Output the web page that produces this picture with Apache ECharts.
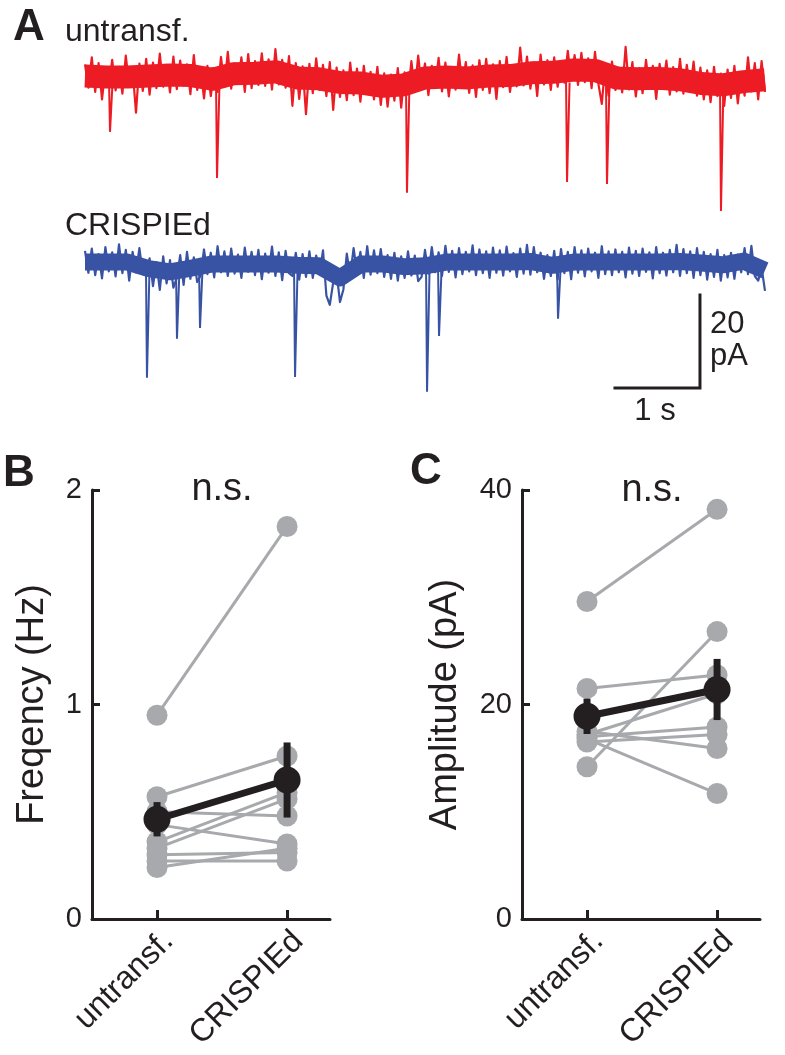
<!DOCTYPE html>
<html><head><meta charset="utf-8">
<script src="https://cdn.jsdelivr.net/npm/echarts@6/dist/echarts.min.js"></script>
<style>html,body{margin:0;padding:0;background:#fff}#c{width:785px;height:1055px}</style>
</head><body><div id="c"></div>
<script>
// ---------- Panel A: example traces (pA, relative to each trace's baseline) ----------
const traceDuration = 8; // s
// fast noise, sampled uniformly over the 8 s sweep
const untransfTrace = [
 2.9,-2.1,4.4,-3.0,3.2,
 -4.6,2.0,-1.8,3.9,-2.7,2.4,-3.4,4.8,-1.9,1.8,-7.5,3.1,-2.8,4.1,-3.6,
 3.3,-2.2,5.2,-1.9,2.8,-3.1,4.6,-2.4,3.7,-1.6,2.9,-3.5,4.9,-2.6,2.1,
 -4.4,2.6,-3.9,1.7,
 -3.0,4.5,-1.9,5.6,-2.3,3.1,-1.2,4.4,-3.0,5.1,-2.2,3.6,-1.5,
 5.3,-1.7,4.0,-2.5,6.2,-1.4,3.9,-2.1,4.7,
 -6.0,3.2,-4.5,2.5,-7.8,3.0,-3.3,4.2,-2.6,2.8,-3.9,3.4,
 -6.9,2.2,-4.1,1.6,-4.8,3.3,-3.7,2.0,-5.1,2.6,-3.2,1.3,-4.6,2.4,
 -5.8,1.0,-6.2,0.7,-4.9,2.1,-6.4,1.2,
 -3.5,3.6,-2.9,4.8,-2.0,3.1,-3.7,2.6,-1.8,4.3,-2.9,3.3,-4.0,2.2,-2.5,5.0,-1.9,3.4,-3.2,2.7,-4.1,3.8,
 -2.6,4.1,-3.3,2.9,-4.5,3.6,-2.0,4.5,-3.0,2.4,-1.8,6.5,
 -1.6,4.6,-2.3,3.3,-3.9,5.0,-1.4,3.8,-2.6,4.4,-1.9,3.1,
 -1.0,5.8,-0.6,4.9,-1.5,5.4,-0.9,4.2,-2.2,5.6,-1.3,
 -5.6,2.7,-3.8,3.5,-2.6,2.2,
 -3.1,6.7,-2.5,3.4,-4.0,2.1,-3.3,3.9,-2.2,2.6,-4.5,3.0,-2.0,3.7,-3.6,2.3,-2.9,4.1,-3.4,2.8,-2.4,3.5,-3.8,2.2,
 -4.6,1.6,-5.2,2.4,-3.9,0.9,-6.0,1.8,-4.3,2.6,-5.5,1.1,
 -3.8,4.4,-2.9,3.2,-4.6,3.6,-3.0
];
const crispiedTrace = [
 2.8,-1.9,3.3,-2.4,2.1,-3.1,3.6,-1.6,2.5,-2.7,4.2,-2.0,3.0,-3.6,2.6,-1.8,3.4,-2.2,
 -2.5,
 1.2,-4.8,0.4,-5.6,1.6,-4.2,0.8,-5.1,
 -3.0,
 1.9,-4.5,2.6,-3.2,1.4,-3.9,
 -2.5,
 3.1,-2.2,2.4,-2.9,3.8,-1.8,2.7,-2.6,3.3,-2.1,2.0,-3.0,3.5,-1.7,2.6,-2.4,3.0,-3.3,2.2,-1.9,3.7,-2.6,2.5,-3.5,2.8,-2.0,
 -2.6,2.4,
 -3.4,2.1,-2.8,2.7,-3.0,1.8,-2.2,2.9,
 -6.8,-8.8,-4.0,-2.0,-8.2,-5.5,
 2.2,-2.6,3.4,-1.9,2.6,-3.0,3.8,-2.3,2.9,-2.0,3.2,-2.8,1.9,-3.2,2.4,-3.6,1.6,-3.0,2.7,-2.5,1.8,-3.7,
 -2.8,
 3.0,-2.1,3.6,-1.8,2.5,-2.6,3.9,-1.7,2.8,-2.9,3.4,-2.2,2.6,-1.6,4.0,-2.4,3.1,-2.0,2.7,-3.0,3.5,-1.9,2.9,-2.5,3.7,-1.6,2.3,-2.8,3.3,-2.1,4.1,-2.3,3.6,-1.8,
 2.4,-3.2,1.9,-2.6,2.8,-3.4,
 3.2,-2.0,2.6,-3.3,3.6,-1.9,2.9,-2.7,3.3,-1.6,2.4,-3.0,3.8,-2.2,2.7,-2.4,3.1,-1.8,2.6,-2.9,3.5,-2.1,2.8,-2.6,3.3,-1.7,2.5,-3.1,3.6,-2.0,2.4,-2.5,3.0,-1.8,4.1,-2.6,3.2,-2.0,2.7,-3.0,3.4,
 -2.4,2.6,-3.4,2.1,-2.8,3.0,-3.6,1.9,-2.9,2.4,-3.2,2.0,
 -1.8,3.4,-2.2,3.9,-2.6,
 -3.6,-0.8,-5.8
];
// slow baseline wander (dense core of the noise band), every 0.25 s
const untransfBaseline = [0.4,0.2,0.2,0.4,0.6,0.5,-0.3,0.9,1.0,1.3,0.0,-0.2,-1.0,-1.1,-1.8,-1.5,0.0,
  0.2,0.0,0.4,0.5,1.1,1.2,1.7,1.6,0.0,-0.2,-0.1,-0.4,-1.2,-1.5,-0.8,-0.4];
const crispiedBaseline = [0.4,0.4,0.4,-1.0,-1.7,-0.9,0.0,0.0,0.0,0.0,-0.3,-0.4,-3.0,0.0,0.0,-0.6,-0.4,
  0.4,0.4,0.4,0.4,0.5,-0.3,0.4,0.4,0.4,0.4,0.4,0.5,0.2,-0.2,0.6,-1.4];
const untransfEventTimes = [0.294, 1.553, 3.788, 5.671, 6.141, 7.482];
const untransfEventAmps  = [11.6, 21.5, 24.7, 22.4, 22.8, 28.6];
const crispiedEventTimes = [0.729, 1.082, 1.353, 2.471, 4.024, 4.165, 5.565];
const crispiedEventAmps  = [24.5, 16.1, 13.8, 24.3, 27.5, 15.5, 11.8];
const scaleBarTime = 1;   // s
const scaleBarAmp = 20;   // pA

// ---------- Panels B & C: paired data ----------
const groups = ['untransf.', 'CRISPIEd'];
const freqUntransf = [0.95, 0.57, 0.50, 0.44, 0.36, 0.33, 0.30, 0.27, 0.24];
const freqCrispied = [1.83, 0.76, 0.48, 0.35, 0.59, 0.56, 0.31, 0.27, 0.33];
const freqMean = [0.465, 0.648];
const freqSem  = [0.08, 0.175];
const ampUntransf = [29.6, 21.5, 14.2, 17.2, 17.0, 16.5, 17.5, 16.8, 19.0];
const ampCrispied = [38.2, 22.75, 26.8, 21.0, 17.9, 17.2, 15.9, 11.7, 21.5];
const ampMean = [18.9, 21.4];
const ampSem  = [1.65, 2.85];
const freqTicks = [0, 1, 2];
const ampTicks = [0, 20, 40];
const statLabel = 'n.s.';

// ---------- layout / style constants ----------
const FONT = '"Liberation Sans", Arial, Helvetica, sans-serif';
const INK = '#231f20', GREY = '#a7a9ac', RED = '#ed1c24', BLUE = '#3953a4';
const RED_OFF = -10.3, BLUE_OFF = -50.3;       // vertical placement of traces (axis units)
const SB_T0 = 6.235, SB_Y0 = -77.0;             // scale-bar corner placement

const chart = echarts.init(document.getElementById('c'), null, {renderer: 'canvas'});

function traceSeries(vals, off, color, width, z) {
  const dt = traceDuration / (vals.length - 1);
  return {
    type: 'line', xAxisIndex: 0, yAxisIndex: 0, silent: true, animation: false,
    showSymbol: false, symbol: 'none',
    data: vals.map((v, i) => [i * dt, v + off]),
    lineStyle: {color, width, join: 'round', cap: 'butt'}, z
  };
}
function eventSeries(times, amps, off, color) {
  return {
    type: 'custom', xAxisIndex: 0, yAxisIndex: 0, silent: true, animation: false,
    data: times.map((t, i) => [t, amps[i]]),
    renderItem: (params, api) => {
      const t = api.value(0), a = api.value(1);
      const p0 = api.coord([t - 0.012, off]);
      const p1 = api.coord([t, off - a]);
      const p2 = api.coord([t + 0.03, off - 1]);
      return {type: 'polyline', shape: {points: [p0, p1, p2]},
              style: {stroke: color, lineWidth: 2, fill: null}};
    }, z: 3
  };
}
function pairSeries(a, b, xi) {
  return a.map((v, i) => ({
    type: 'line', xAxisIndex: xi, yAxisIndex: xi, silent: true, animation: false,
    data: [[1, v], [2, b[i]]], symbol: 'circle', symbolSize: 21,
    itemStyle: {color: GREY}, lineStyle: {color: GREY, width: 3}, z: 2
  }));
}
function meanSeries(mean, sem, xi) {
  return [{
    type: 'custom', xAxisIndex: xi, yAxisIndex: xi, silent: true, animation: false,
    data: mean.map((m, i) => [i + 1, m, sem[i]]),
    renderItem: (params, api) => {
      const x = api.value(0), m = api.value(1), s = api.value(2);
      const p0 = api.coord([x, m - s]), p1 = api.coord([x, m + s]);
      return {type: 'line', shape: {x1: p0[0], y1: p0[1], x2: p1[0], y2: p1[1]},
              style: {stroke: INK, lineWidth: 7}};
    }, z: 5
  }, {
    type: 'line', xAxisIndex: xi, yAxisIndex: xi, silent: true, animation: false,
    data: mean.map((m, i) => [i + 1, m]), symbol: 'circle', symbolSize: 27,
    itemStyle: {color: INK}, lineStyle: {color: INK, width: 7}, z: 6
  }];
}
function catX(gi) {
  return {
    type: 'value', gridIndex: gi, min: 0.5, max: 2.33,
    axisLine: {show: true, onZero: false, lineStyle: {color: INK, width: 3}},
    axisTick: {show: true, inside: true, length: 9, customValues: [1, 2], lineStyle: {color: INK, width: 3}},
    axisLabel: {show: true, customValues: [1, 2], formatter: v => groups[Math.round(v) - 1],
                rotate: 45, fontSize: 32, fontFamily: FONT, color: INK, margin: 6,
                verticalAlign: 'top'},
    splitLine: {show: false}
  };
}
function valY(gi, ticks, name, gap) {
  return {
    type: 'value', gridIndex: gi, min: ticks[0], max: ticks[ticks.length - 1],
    interval: ticks[1] - ticks[0],
    axisLine: {show: true, onZero: false, lineStyle: {color: INK, width: 3}},
    axisTick: {show: true, inside: true, length: 8, lineStyle: {color: INK, width: 3}},
    axisLabel: {show: true, fontSize: 29, fontFamily: FONT, color: INK, margin: 10},
    splitLine: {show: false},
    name, nameLocation: 'middle', nameGap: gap,
    nameTextStyle: {fontSize: 38, fontFamily: FONT, color: INK}
  };
}
function txt(text, x, y, size, align, bold) {
  return {type: 'text', x, y, silent: true,
          style: {text, font: (bold ? 'bold ' : '') + size + 'px ' + FONT, fill: INK,
                  align: align || 'left', verticalAlign: 'middle'}};
}

const option = {
  backgroundColor: '#ffffff',
  animation: false,
  grid: [
    {left: 85, top: 30, width: 680, height: 372, outerBoundsMode: 'none'},
    {left: 92, top: 490, width: 238, height: 429, outerBoundsMode: 'none'},
    {left: 522, top: 490, width: 238, height: 429, outerBoundsMode: 'none'}
  ],
  xAxis: [
    {type: 'value', gridIndex: 0, min: 0, max: traceDuration, show: false},
    catX(1), catX(2)
  ],
  yAxis: [
    {type: 'value', gridIndex: 0, min: -80, max: 0, show: false},
    valY(1, freqTicks, 'Freqency (Hz)', 40),
    valY(2, ampTicks, 'Amplitude (pA)', 57)
  ],
  series: [
    traceSeries(untransfBaseline, RED_OFF, RED, 23, 1),
    traceSeries(untransfTrace, RED_OFF, RED, 2.2, 2),
    eventSeries(untransfEventTimes, untransfEventAmps, RED_OFF, RED),
    traceSeries(crispiedBaseline, BLUE_OFF, BLUE, 17, 1),
    traceSeries(crispiedTrace, BLUE_OFF, BLUE, 2.2, 2),
    eventSeries(crispiedEventTimes, crispiedEventAmps, BLUE_OFF, BLUE),
    {type: 'line', xAxisIndex: 0, yAxisIndex: 0, silent: true, animation: false, symbol: 'none',
     data: [[SB_T0, SB_Y0], [SB_T0 + scaleBarTime, SB_Y0], [SB_T0 + scaleBarTime, SB_Y0 + scaleBarAmp]],
     lineStyle: {color: INK, width: 3, join: 'miter', cap: 'square'}, z: 4},
    ...pairSeries(freqUntransf, freqCrispied, 1),
    ...meanSeries(freqMean, freqSem, 1),
    ...pairSeries(ampUntransf, ampCrispied, 2),
    ...meanSeries(ampMean, ampSem, 2)
  ],
  graphic: [
    txt('A', 13, 28, 44, 'left', true),
    txt('untransf.', 65, 32, 32),
    txt('CRISPIEd', 65, 226, 32),
    txt(String(scaleBarAmp), 710, 324, 31),
    txt('pA', 710, 356, 31),
    txt(scaleBarTime + ' s', 655, 411, 31, 'center'),
    txt('B', 3, 474, 44, 'left', true),
    txt('C', 410, 472, 44, 'left', true),
    txt(statLabel, 222, 490, 38, 'center'),
    txt(statLabel, 652, 491, 38, 'center')
  ]
};
chart.setOption(option);
</script>
</body></html>
